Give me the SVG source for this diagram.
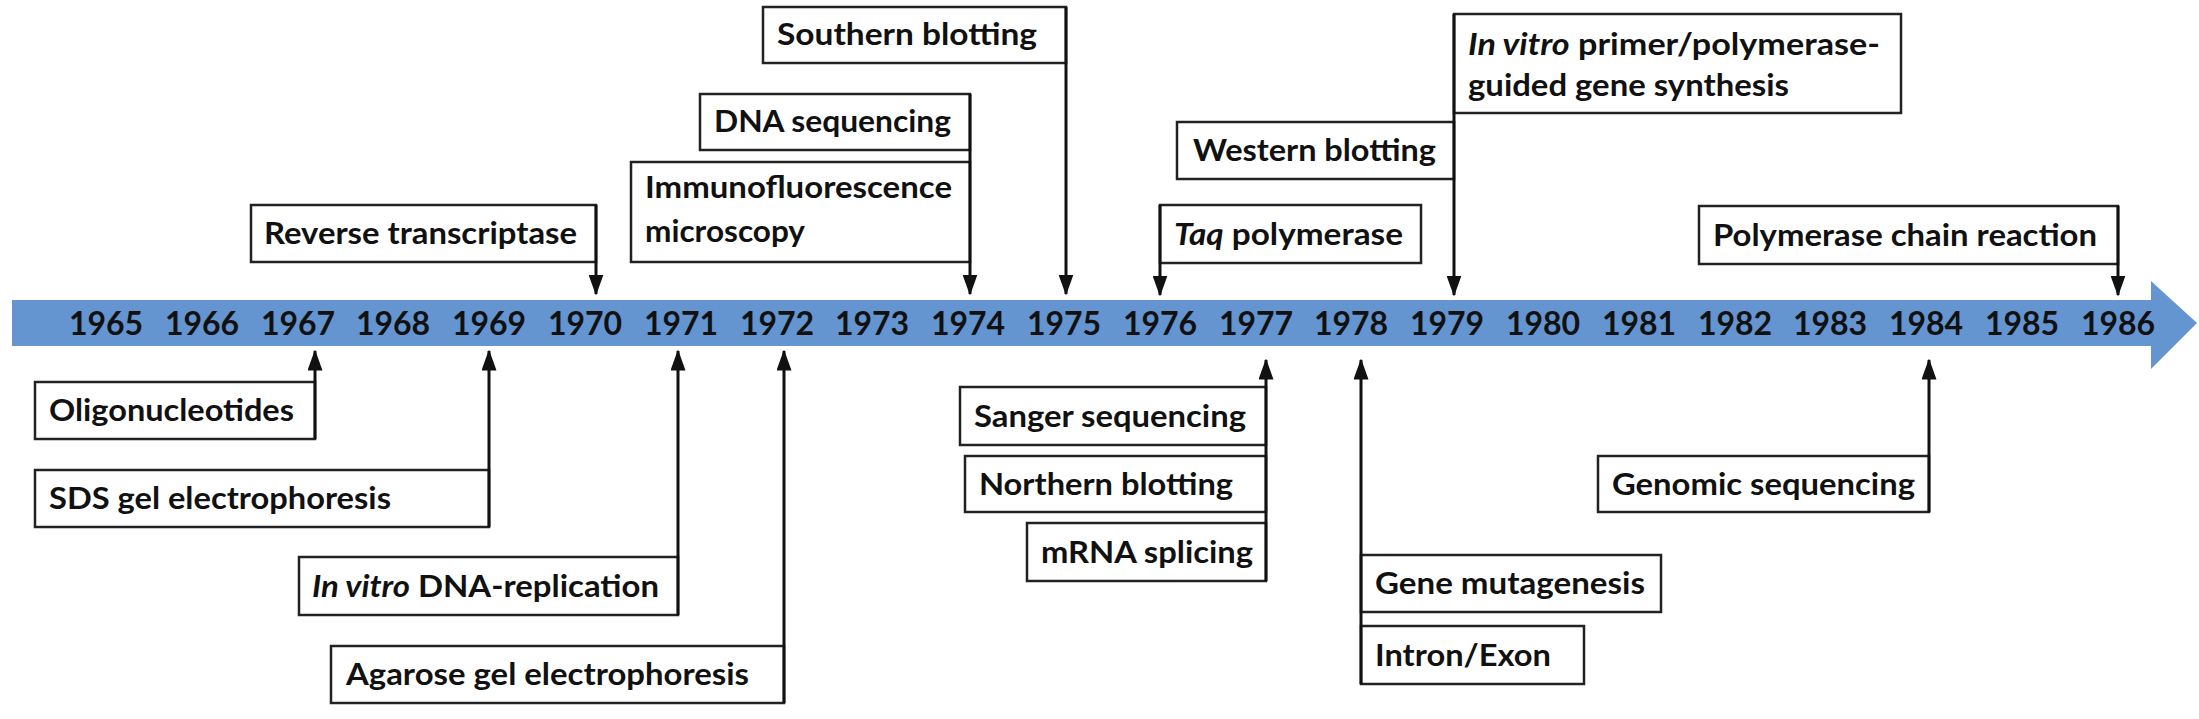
<svg xmlns="http://www.w3.org/2000/svg" width="2199" height="719" viewBox="0 0 2199 719">
<style>
.b{fill:#fff;stroke:#222;stroke-width:2.5}
.t{font-family:Lato,"Liberation Sans",sans-serif;font-weight:700;font-size:30px;fill:#111}
.y{font-family:Lato,"Liberation Sans",sans-serif;font-weight:700;font-size:32px;fill:#111;text-anchor:middle}
.c{stroke:#111;stroke-width:3;fill:none;marker-end:url(#a)}
</style>
<defs>
<marker id="a" markerWidth="7" markerHeight="5" refX="6.5" refY="2.5" orient="auto" markerUnits="strokeWidth">
<path d="M0,0 L7,2.5 L0,5 z" fill="#111"/>
</marker>
</defs>
<g id="timeline">
<rect x="12" y="300" width="2141" height="46" fill="#6495d0"/>
<polygon points="2151,281 2197,323 2151,369" fill="#6495d0"/>
<text class="y" x="106" y="335">1965</text><text class="y" x="202" y="335">1966</text><text class="y" x="298" y="335">1967</text><text class="y" x="393" y="335">1968</text><text class="y" x="489" y="335">1969</text><text class="y" x="585" y="335">1970</text><text class="y" x="681" y="335">1971</text><text class="y" x="777" y="335">1972</text><text class="y" x="872" y="335">1973</text><text class="y" x="968" y="335">1974</text><text class="y" x="1064" y="335">1975</text><text class="y" x="1160" y="335">1976</text><text class="y" x="1256" y="335">1977</text><text class="y" x="1351" y="335">1978</text><text class="y" x="1447" y="335">1979</text><text class="y" x="1543" y="335">1980</text><text class="y" x="1639" y="335">1981</text><text class="y" x="1735" y="335">1982</text><text class="y" x="1830" y="335">1983</text><text class="y" x="1926" y="335">1984</text><text class="y" x="2022" y="335">1985</text><text class="y" x="2118" y="335">1986</text>
</g>
<g id="southern"><rect class="b" x="763" y="7" width="303" height="56"/><text class="t" x="777" y="45" textLength="260" lengthAdjust="spacingAndGlyphs">Southern blotting</text></g>
<g id="dnaseq"><rect class="b" x="700" y="94" width="270" height="56"/><text class="t" x="714" y="132" textLength="237" lengthAdjust="spacingAndGlyphs">DNA sequencing</text></g>
<g id="immuno"><rect class="b" x="631" y="162" width="339" height="100"/><text class="t" x="645" y="198" textLength="307" lengthAdjust="spacingAndGlyphs">Immunofluorescence</text><text class="t" x="645" y="242" textLength="160" lengthAdjust="spacingAndGlyphs">microscopy</text></g>
<g id="rt"><rect class="b" x="251" y="205" width="345" height="57"/><text class="t" x="264" y="244" textLength="313" lengthAdjust="spacingAndGlyphs">Reverse transcriptase</text></g>
<g id="invitroprimer"><rect class="b" x="1454" y="14" width="447" height="99"/><text class="t" x="1468" y="55" textLength="412" lengthAdjust="spacingAndGlyphs"><tspan font-style="italic">In vitro</tspan> primer/polymerase-</text><text class="t" x="1468" y="96" textLength="321" lengthAdjust="spacingAndGlyphs">guided gene synthesis</text></g>
<g id="western"><rect class="b" x="1177" y="122" width="277" height="57"/><text class="t" x="1193" y="161" textLength="243" lengthAdjust="spacingAndGlyphs">Western blotting</text></g>
<g id="taq"><rect class="b" x="1160" y="205" width="261" height="58"/><text class="t" x="1174" y="245" textLength="229" lengthAdjust="spacingAndGlyphs"><tspan font-style="italic">Taq</tspan> polymerase</text></g>
<g id="pcr"><rect class="b" x="1699" y="206" width="419" height="58"/><text class="t" x="1713" y="246" textLength="384" lengthAdjust="spacingAndGlyphs">Polymerase chain reaction</text></g>
<g id="oligo"><rect class="b" x="35" y="382" width="280" height="57"/><text class="t" x="49" y="421" textLength="245" lengthAdjust="spacingAndGlyphs">Oligonucleotides</text></g>
<g id="sds"><rect class="b" x="35" y="470" width="454" height="57"/><text class="t" x="49" y="509" textLength="342" lengthAdjust="spacingAndGlyphs">SDS gel electrophoresis</text></g>
<g id="invitrodna"><rect class="b" x="299" y="557" width="379" height="58"/><text class="t" x="312" y="597" textLength="347" lengthAdjust="spacingAndGlyphs"><tspan font-style="italic">In vitro</tspan> DNA-replication</text></g>
<g id="agarose"><rect class="b" x="331" y="646" width="453" height="57"/><text class="t" x="346" y="685" textLength="403" lengthAdjust="spacingAndGlyphs">Agarose gel electrophoresis</text></g>
<g id="sanger"><rect class="b" x="960" y="387" width="306" height="58"/><text class="t" x="974" y="427" textLength="272" lengthAdjust="spacingAndGlyphs">Sanger sequencing</text></g>
<g id="northern"><rect class="b" x="965" y="456" width="301" height="56"/><text class="t" x="979" y="495" textLength="254" lengthAdjust="spacingAndGlyphs">Northern blotting</text></g>
<g id="mrna"><rect class="b" x="1027" y="523" width="239" height="58"/><text class="t" x="1041" y="563" textLength="212" lengthAdjust="spacingAndGlyphs">mRNA splicing</text></g>
<g id="genemut"><rect class="b" x="1361" y="555" width="300" height="57"/><text class="t" x="1375" y="594" textLength="270" lengthAdjust="spacingAndGlyphs">Gene mutagenesis</text></g>
<g id="intron"><rect class="b" x="1361" y="626" width="223" height="58"/><text class="t" x="1375" y="666" textLength="176" lengthAdjust="spacingAndGlyphs">Intron/Exon</text></g>
<g id="genomic"><rect class="b" x="1598" y="456" width="331" height="56"/><text class="t" x="1612" y="495" textLength="303" lengthAdjust="spacingAndGlyphs">Genomic sequencing</text></g>
<g id="connectors">
<line class="c" x1="596" y1="205" x2="596" y2="294"/>
<line class="c" x1="970" y1="94" x2="970" y2="294"/>
<line class="c" x1="1066" y1="7" x2="1066" y2="294"/>
<line class="c" x1="1160" y1="205" x2="1160" y2="295"/>
<line class="c" x1="1454" y1="14" x2="1454" y2="295"/>
<line class="c" x1="2118" y1="206" x2="2118" y2="295"/>
<line class="c" x1="315" y1="439" x2="315" y2="351"/>
<line class="c" x1="489" y1="527" x2="489" y2="351"/>
<line class="c" x1="678" y1="615" x2="678" y2="351"/>
<line class="c" x1="784" y1="703" x2="784" y2="351"/>
<line class="c" x1="1266" y1="581" x2="1266" y2="360"/>
<line class="c" x1="1361" y1="684" x2="1361" y2="360"/>
<line class="c" x1="1929" y1="512" x2="1929" y2="360"/>
</g>
</svg>
